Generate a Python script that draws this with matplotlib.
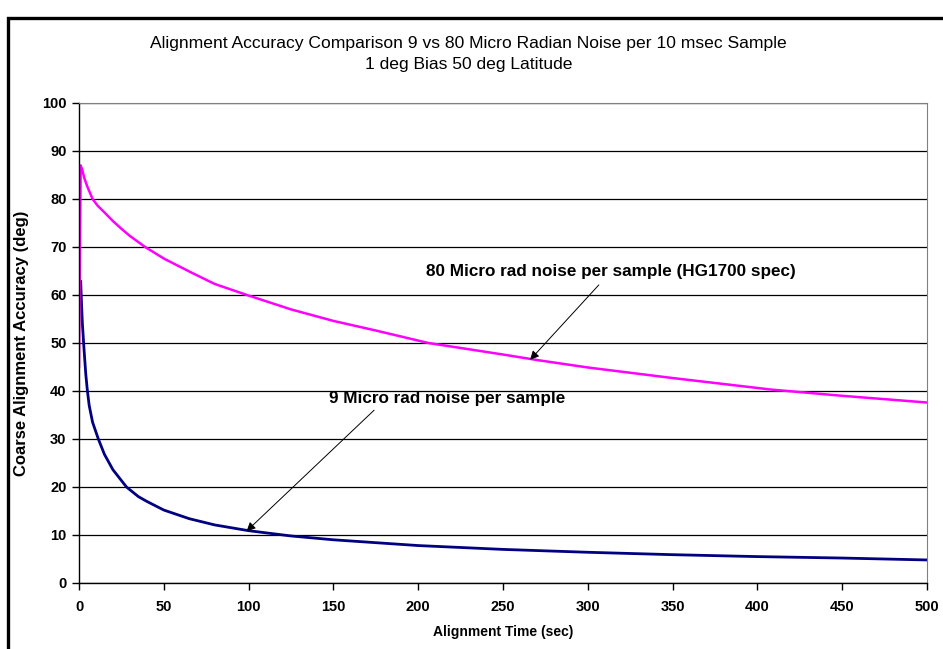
import matplotlib
matplotlib.use("Agg")
import matplotlib.pyplot as plt
from matplotlib.patches import Rectangle

plt.rcParams['font.family'] = ['Liberation Sans', 'DejaVu Sans']

# values
hg1700_t = [0, 1, 2, 3, 5, 8, 11, 15, 20, 25, 30, 39, 50, 65, 80, 99, 125, 150,
            175, 206, 250, 271, 300, 350, 408, 450, 500]
hg1700_acc = [45.0, 87.0, 86.0, 84.5, 82.5, 80.0, 78.6, 77.2, 75.4, 73.8, 72.3,
              70.0, 67.6, 64.9, 62.3, 60.0, 57.0, 54.6, 52.6, 50.0, 47.6, 46.4,
              44.9, 42.7, 40.3, 39.0, 37.6]

nine_t = [1, 1.5, 2, 3, 4, 4.9, 6, 8, 11.4, 15, 20, 28, 35, 40, 50, 65, 80, 100,
          125, 150, 200, 250, 300, 350, 400, 450, 500]
nine_acc = [62.8, 58.0, 54.0, 48.5, 43.5, 40.2, 37.0, 33.5, 30.0, 26.8, 23.6,
            20.0, 18.0, 17.0, 15.2, 13.4, 12.1, 10.9, 9.8, 9.0, 7.8, 7.0, 6.4,
            5.9, 5.5, 5.2, 4.8]

title = ("Alignment Accuracy Comparison 9 vs 80 Micro Radian Noise per 10 msec Sample\n"
         "1 deg Bias 50 deg Latitude")
label_80 = "80 Micro rad noise per sample (HG1700 spec)"
label_9 = "9 Micro rad noise per sample"
caption = "ing Alignment Accuracy Comparison (Using HG1700)"

fig = plt.figure(figsize=(9.43, 6.49), dpi=100)
ax = fig.add_axes([79 / 943, 1 - 583 / 649, 848 / 943, 480 / 649])

# caption of the page above, cut off so only its descenders show
fig.text(7 / 943, 1 + 7 / 649, caption, family='Liberation Serif', fontweight='bold',
         fontsize=22.5, va='baseline')

# frame around the chart
fig.patches.append(Rectangle((8 / 943, -0.1), 1.0, 1.1 - 18 / 649, transform=fig.transFigure,
                             fill=False, edgecolor='black', linewidth=2.4))

ax.plot(nine_t, nine_acc, color='#000080', lw=2.0)
ax.plot(hg1700_t, hg1700_acc, color='#ff00ff', lw=1.8)

ax.set_xlim(0, 500)
ax.set_ylim(0, 100)
ax.set_xticks(range(0, 501, 50))
ax.set_yticks(range(0, 101, 10))
ax.yaxis.grid(True, color='black', lw=0.9)
ax.set_axisbelow(True)
for s in ['top', 'right']:
    ax.spines[s].set_color('#808080')
ax.spines['left'].set_linewidth(1.0)
ax.spines['bottom'].set_linewidth(1.0)
ax.tick_params(direction='out', length=5, width=1, labelsize=10.5)
ax.tick_params(axis='y', pad=4)
ax.tick_params(axis='x', pad=7)
for lab in ax.get_xticklabels() + ax.get_yticklabels():
    lab.set_fontweight('bold')

ax.set_xlabel("Alignment Time (sec)", fontsize=10, fontweight='bold')
ax.xaxis.set_label_coords(0.5, -0.088)
ax.set_ylabel("Coarse Alignment Accuracy (deg)", fontsize=12, fontweight='bold')
ax.yaxis.set_label_coords(-0.059, 0.5)

fig.text(0.497, 1 - 54 / 649, title, ha='center', va='center', fontsize=12.6, linespacing=1.5)

ax.text(313.5, 64.8, label_80, fontsize=12.3, fontweight='bold', ha='center', va='center')
ax.annotate('', xy=(266, 46.5), xytext=(306.5, 62.1),
            arrowprops=dict(arrowstyle='-|>', color='black', lw=0.7, shrinkA=0, shrinkB=0,
                            mutation_scale=13))
ax.text(217, 38.5, label_9, fontsize=12.3, fontweight='bold', ha='center', va='center')
ax.annotate('', xy=(98.8, 10.8), xytext=(174, 36),
            arrowprops=dict(arrowstyle='-|>', color='black', lw=0.7, shrinkA=0, shrinkB=0,
                            mutation_scale=13))

fig.savefig("out.png", dpi=100)
